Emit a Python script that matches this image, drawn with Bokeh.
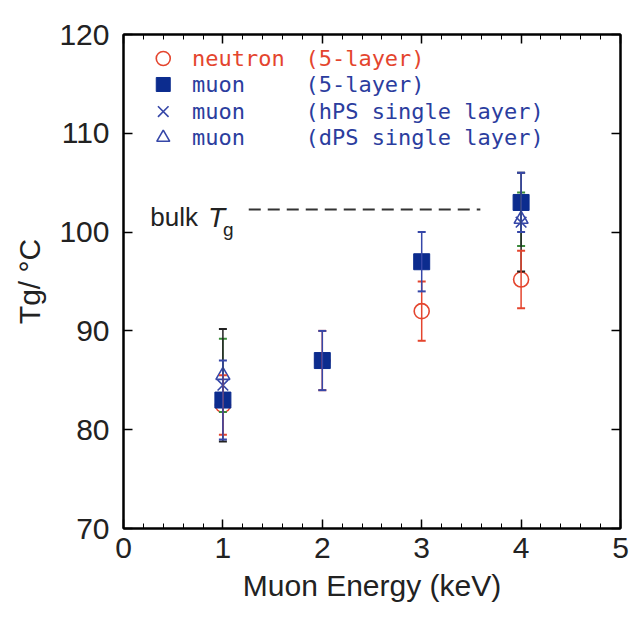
import math
from bokeh.plotting import figure
from bokeh.models import (ColumnDataSource, Whisker, TeeHead, LinearAxis, SingleIntervalTicker,
                          Range1d, CustomJSTickFormatter)
from bokeh.embed import file_html
from bokeh.resources import INLINE
from bokeh.core.properties import value

# ---- data ----
neutron_x = [1, 2, 3, 4]
neutron_y = [82.5, 87.0, 92.0, 95.2]
neutron_err = [3.0, 3.0, 3.0, 2.9]

muon5_x = [1, 2, 3, 4]
muon5_y = [83.0, 87.0, 97.0, 103.0]
muon5_err = [4.0, 3.0, 3.0, 3.0]

hps_x = [1, 4]
hps_y = [84.5, 101.0]
hps_err = [5.7, 5.0]

dps_x = [1, 4]
dps_y = [85.5, 101.3]
dps_err = [3.7, 2.7]

bulk_tg = 102.3
bulk_line_x = [1.26, 3.59]

legend_labels = ["neutron", "muon", "muon", "muon"]
legend_details = ["(5-layer)", "(5-layer)", "(hPS single layer)", "(dPS single layer)"]
legend_rows_y = [117.57, 114.94, 112.2, 109.57]

RED = "#e4452e"
BLUE_TXT = "#2b3d9e"
BLUE = "#3647a8"
SQ = "#0c2c8e"
GREEN = "#3a8a3a"

p = figure(width=631, height=617, output_backend="svg", toolbar_location=None,
           x_range=Range1d(0, 5), y_range=Range1d(70, 120),
           min_border_left=123, min_border_right=11, min_border_top=34, min_border_bottom=89,
           x_axis_location=None, y_axis_location=None)
p.xgrid.visible = False
p.ygrid.visible = False
p.outline_line_color = "black"
p.outline_line_width = 2
p.background_fill_color = "white"
p.border_fill_color = "white"

FONT = "Liberation Sans"
blank = CustomJSTickFormatter(code="return ''")

def make_x_axis(show):
    ax = LinearAxis(ticker=SingleIntervalTicker(interval=1, num_minor_ticks=5))
    ax.axis_line_color = "black"
    ax.axis_line_width = 2
    ax.major_tick_in = 9
    ax.major_tick_out = 0
    ax.minor_tick_in = 5
    ax.minor_tick_out = 0
    ax.major_tick_line_color = "black"
    ax.minor_tick_line_color = "black"
    ax.major_tick_line_width = 1.5
    ax.minor_tick_line_width = 1
    if show:
        ax.major_label_text_font = FONT
        ax.major_label_text_font_size = "30px"
        ax.major_label_text_color = "#222222"
        ax.major_label_standoff = 9
        ax.axis_label = "Muon Energy (keV)"
        ax.axis_label_text_font = FONT
        ax.axis_label_text_font_size = "30px"
        ax.axis_label_text_font_style = "normal"
        ax.axis_label_text_color = "#222222"
        ax.axis_label_standoff = 8
    else:
        ax.formatter = blank
        ax.major_label_standoff = 0
    return ax

def make_y_axis(show):
    ax = LinearAxis(ticker=SingleIntervalTicker(interval=10, num_minor_ticks=0))
    ax.axis_line_color = "black"
    ax.axis_line_width = 2
    ax.major_tick_in = 9
    ax.major_tick_out = 0
    ax.major_tick_line_color = "black"
    ax.major_tick_line_width = 1.5
    ax.minor_tick_line_color = None
    if show:
        ax.major_label_text_font = FONT
        ax.major_label_text_font_size = "30px"
        ax.major_label_text_color = "#222222"
        ax.major_label_standoff = 14
        ax.axis_label = "Tg/ °C"
        ax.axis_label_text_font = FONT
        ax.axis_label_text_font_size = "30px"
        ax.axis_label_text_font_style = "normal"
        ax.axis_label_text_color = "#222222"
        ax.axis_label_standoff = 10
    else:
        ax.formatter = blank
        ax.major_label_standoff = 0
    return ax

p.add_layout(make_x_axis(True), "below")
p.add_layout(make_x_axis(False), "above")
p.add_layout(make_y_axis(True), "left")
p.add_layout(make_y_axis(False), "right")

# error bars
def whisk(xs, ys, errs, color, cap_color=None, w=1.5):
    cc = cap_color or color
    src = ColumnDataSource(dict(x=xs, up=[y + e for y, e in zip(ys, errs)],
                                lo=[y - e for y, e in zip(ys, errs)]))
    wk = Whisker(base="x", upper="up", lower="lo", source=src,
                 line_color=color, line_width=w, level="glyph",
                 upper_head=TeeHead(size=8, line_color=cc, line_width=2),
                 lower_head=TeeHead(size=8, line_color=cc, line_width=2))
    p.add_layout(wk)

whisk(dps_x, dps_y, dps_err, GREEN)
whisk(hps_x, hps_y, hps_err, "#222222")
whisk(neutron_x, neutron_y, neutron_err, RED)
whisk(muon5_x, muon5_y, muon5_err, BLUE)

# markers
p.scatter(neutron_x, neutron_y, marker="circle", size=15, fill_color="white",
          line_color=RED, line_width=1.6)
p.scatter(muon5_x, muon5_y, marker="square", size=16, fill_color=SQ, line_color=SQ)
p.scatter(hps_x, hps_y, marker="x", size=15, line_color=BLUE, line_width=1.6)
p.scatter(dps_x, dps_y, marker="triangle", size=14, fill_color=None,
          line_color=BLUE, line_width=1.6)

# bulk Tg line and label
p.line(bulk_line_x, [bulk_tg, bulk_tg], line_color="#333333", line_width=2, line_dash="12 7")
p.text(x=[0.27], y=[101.5], text=["bulk"], text_font=value(FONT), text_font_size="26px",
       text_baseline="alphabetic", text_color="#222222")
p.text(x=[0.85], y=[101.5], text=["T"], text_font=value(FONT), text_font_size="28px",
       text_font_style="italic", text_baseline="alphabetic", text_color="#222222")
p.text(x=[1.0], y=[100.3], text=["g"], text_font=value(FONT), text_font_size="19px",
       text_baseline="alphabetic", text_color="#222222")

# legend (drawn as text + markers)
MONO = "DejaVu Sans Mono"
lx = 0.40
p.scatter([lx], [legend_rows_y[0]], marker="circle", size=14, fill_color="white",
          line_color=RED, line_width=1.6)
p.scatter([lx], [legend_rows_y[1]], marker="square", size=14, fill_color=SQ, line_color=SQ)
p.scatter([lx], [legend_rows_y[2]], marker="x", size=15, line_color=BLUE, line_width=1.6)
p.scatter([lx], [legend_rows_y[3]], marker="triangle", size=13, fill_color=None,
          line_color=BLUE, line_width=1.6)
colors = [RED, BLUE_TXT, BLUE_TXT, BLUE_TXT]
p.text(x=[0.69] * 4, y=legend_rows_y, text=legend_labels, text_font=value(MONO),
       text_font_size="22px", text_baseline="middle", text_color=colors)
p.text(x=[1.83] * 4, y=legend_rows_y, text=legend_details, text_font=value(MONO),
       text_font_size="22px", text_baseline="middle", text_color=colors)

open("out.html", "w").write(file_html(p, INLINE))
